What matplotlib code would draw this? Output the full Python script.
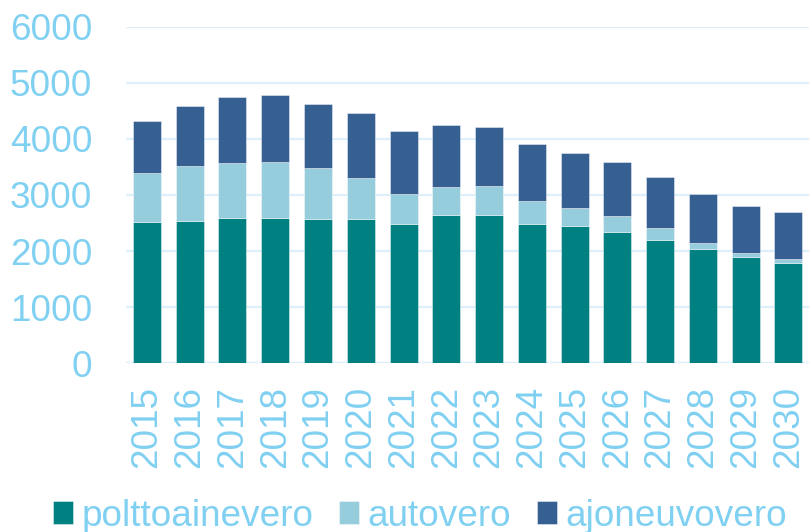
import matplotlib
matplotlib.use("Agg")
import matplotlib.pyplot as plt
import numpy as np

years = ["2015", "2016", "2017", "2018", "2019", "2020", "2021", "2022",
         "2023", "2024", "2025", "2026", "2027", "2028", "2029", "2030"]
polttoainevero = [2515, 2540, 2590, 2590, 2580, 2570, 2490, 2645,
                  2645, 2490, 2445, 2340, 2200, 2045, 1895, 1790]
autovero = [885, 970, 980, 1005, 895, 725, 530, 505,
            510, 400, 320, 285, 215, 95, 65, 70]
ajoneuvovero = [925, 1080, 1170, 1185, 1145, 1160, 1125, 1100,
                1055, 1015, 975, 955, 910, 870, 850, 830]
labels = ["polttoainevero", "autovero", "ajoneuvovero"]

colors = ["#008080", "#96CDDC", "#376092"]
text_color = "#80D0F2"
grid_color = "#DDEFFA"

plt.rcParams['font.family'] = ['Liberation Sans', 'DejaVu Sans']

fig = plt.figure(figsize=(8.09, 5.32), dpi=100)
ax = fig.add_axes([125.6 / 809, 1 - 363.3 / 532, (809.7 - 125.6) / 809, (363.3 - 26.7) / 532])

x = np.arange(len(years))
w = 0.655
p = np.array(polttoainevero, dtype=float)
a = np.array(autovero, dtype=float)
j = np.array(ajoneuvovero, dtype=float)
series = [p, a, j]
bottom = np.zeros(len(years))
handles = []
for s, c, lab in zip(series, colors, labels):
    h = ax.bar(x, s, w, bottom=bottom, color=c, label=lab,
               edgecolor=(1, 1, 1, 0.5), linewidth=0.6, zorder=3)
    handles.append(h)
    bottom += s

ax.set_xlim(-0.5, len(years) - 0.5)
ax.set_ylim(0, 6000)
ax.set_yticks(np.arange(0, 6001, 1000))
ax.yaxis.grid(True, color=grid_color, linewidth=1.6, zorder=0)
ax.set_axisbelow(True)
for sp in ax.spines.values():
    sp.set_visible(False)
ax.axhline(0, color=grid_color, linewidth=1.6, zorder=1)

ax.set_xticks(x)
ax.set_xticklabels(years, rotation=90)
ax.tick_params(axis='both', length=0, labelsize=26.6, labelcolor=text_color)
ax.tick_params(axis='y', pad=24)
ax.tick_params(axis='x', pad=16)

fig.legend(handles=handles, labels=labels, loc='center',
           bbox_to_anchor=(420 / 809, 1 - 516 / 532), ncol=3, frameon=False,
           fontsize=26.6, labelcolor=text_color, handlelength=0.55,
           handleheight=0.6, handletextpad=0.22, columnspacing=0.7,
           borderaxespad=0, borderpad=0)

fig.savefig("out.png", dpi=100)
